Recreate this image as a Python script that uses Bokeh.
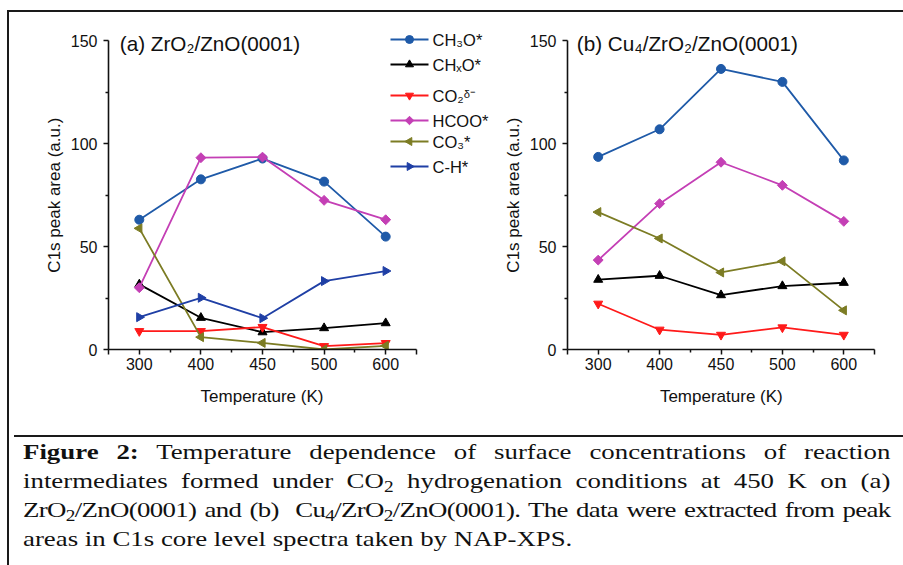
import math
from bokeh.plotting import figure
from bokeh.models import FixedTicker, Label, Div, Range1d
from bokeh.layouts import row, column
from bokeh.embed import file_html
from bokeh.resources import INLINE

# ---------------- data ----------------
temps = ["300", "400", "450", "500", "600"]
y_ticks = [0, 50, 100, 150]

# panel (a) ZrO2/ZnO(0001)
a_ch3o = [63.0, 82.6, 92.7, 81.5, 54.8]
a_chxo = [31.6, 15.4, 8.4, 10.4, 12.8]
a_co2 = [8.9, 8.9, 10.9, 1.6, 3.1]
a_hcoo = [30.0, 93.1, 93.4, 72.4, 63.0]
a_co3 = [58.8, 6.0, 3.2, 0.0, 1.8]
a_ch = [15.7, 25.1, 15.2, 33.2, 38.1]

# panel (b) Cu4/ZrO2/ZnO(0001)
b_ch3o = [93.5, 106.9, 136.2, 129.9, 91.8]
b_chxo = [33.9, 35.8, 26.4, 30.8, 32.4]
b_co2 = [22.2, 9.6, 7.1, 10.7, 7.1]
b_hcoo = [43.4, 70.8, 90.9, 79.7, 62.2]
b_co3 = [66.7, 53.9, 37.4, 42.8, 19.0]

keys = ["CH3O", "CHXO", "CO2", "HCOO", "CO3", "CH"]
names = ["CH\u2083O*", "CH\u2093O*", "CO\u2082\u1d5f\u207b", "HCOO*", "CO\u2083*", "C-H*"]

# ---------------- styles ----------------
STY = {
    "CH3O": dict(color="#1f5aa8", marker="circle", angle=0.0, size=9),
    "CHXO": dict(color="#000000", marker="triangle", angle=0.0, size=9),
    "CO2": dict(color="#ff1a1a", marker="inverted_triangle", angle=0.0, size=9),
    "HCOO": dict(color="#c43fb5", marker="square", angle=math.pi / 4, size=7),
    "CO3": dict(color="#7c7c24", marker="triangle", angle=math.pi / 2, size=9),
    "CH": dict(color="#1f3fa5", marker="triangle", angle=-math.pi / 2, size=9),
}
FONT = "Liberation Sans"
INK = "#111111"
NBSP = "\u00a0"
xs = [i + 1 for i in range(len(temps))]
n = len(temps)

# geometry (pixels)
FIG_H = 418
MB_BOTTOM = 81
AX_H = 309.0           # pixel height of the 0..150 axis
FRAME_H = FIG_H - MB_BOTTOM
Y_TOP = y_ticks[-1] * FRAME_H / AX_H
LBL_PX = 17
SPACE_W = 0.2778 * LBL_PX


def make_panel(width, mbl, axis_w, title, title_x, series):
    frame_w = width - mbl
    x_end = 0.5 + n * frame_w / axis_w
    p = figure(width=width, height=FIG_H, x_range=Range1d(0.5, x_end),
               y_range=Range1d(y_ticks[0], Y_TOP),
               output_backend="svg", toolbar_location=None,
               min_border_left=mbl, min_border_right=0,
               min_border_top=0, min_border_bottom=MB_BOTTOM)
    p.xgrid.visible = False
    p.ygrid.visible = False
    p.outline_line_color = None
    p.border_fill_color = "white"

    xt = [0.5] + xs + [n + 0.5]
    p.xaxis.ticker = FixedTicker(ticks=xt, minor_ticks=[x + 0.5 for x in xs[:-1]])
    ov = {0.5: "", n + 0.5: ""}
    for x, t in zip(xs, temps):
        ov[x] = t
    p.xaxis.major_label_overrides = ov
    p.xaxis.bounds = (0.5, n + 0.5)
    p.yaxis.bounds = (y_ticks[0], y_ticks[-1])
    p.yaxis.ticker = FixedTicker(ticks=y_ticks,
                                 minor_ticks=[(y_ticks[i] + y_ticks[i + 1]) / 2 for i in range(len(y_ticks) - 1)])
    # pad labels so that they are centred on the axis (not on the wider frame)
    pad_x = int(round((frame_w - axis_w) / SPACE_W))
    pad_y = int(round((FRAME_H - AX_H) / SPACE_W))
    p.xaxis.axis_label = "Temperature (K)" + NBSP * pad_x
    p.yaxis.axis_label = "C1s peak area (a.u.)" + NBSP * pad_y
    for ax in (p.xaxis[0], p.yaxis[0]):
        ax.axis_line_width = 1.6
        ax.axis_line_color = INK
        ax.major_tick_in = 0
        ax.major_tick_out = 5
        ax.minor_tick_in = 0
        ax.minor_tick_out = 3
        ax.major_tick_line_width = 1.5
        ax.minor_tick_line_width = 1.5
        ax.major_tick_line_color = INK
        ax.minor_tick_line_color = INK
        ax.major_label_text_font = FONT
        ax.major_label_text_font_size = "16px"
        ax.major_label_text_color = INK
        ax.axis_label_text_font = FONT
        ax.axis_label_text_font_size = "%dpx" % LBL_PX
        ax.axis_label_text_font_style = "normal"
        ax.axis_label_text_color = INK
    p.xaxis.major_label_standoff = 3
    p.xaxis.axis_label_standoff = 14
    p.yaxis.major_label_standoff = 6
    p.yaxis.axis_label_standoff = 4

    for key, vals in series:
        s = STY[key]
        p.line(xs, vals, line_color=s["color"], line_width=1.8)
        p.scatter(xs, vals, marker=s["marker"], angle=s["angle"], size=s["size"],
                  fill_color=s["color"], line_color=s["color"])

    p.add_layout(Label(x=title_x, y=148.5, text=title, text_baseline="middle",
                       text_font=FONT, text_font_size="20.7px", text_color=INK))
    return p


pa = make_panel(491, 99, 308.0, "(a) ZrO\u2082/ZnO(0001)", 0.683,
                [("CH3O", a_ch3o), ("CHXO", a_chxo), ("CO2", a_co2),
                 ("HCOO", a_hcoo), ("CO3", a_co3), ("CH", a_ch)])
pb = make_panel(403, 67, 307.0, "(b) Cu\u2084/ZrO\u2082/ZnO(0001)", 0.651,
                [("CH3O", b_ch3o), ("CHXO", b_chxo), ("CO2", b_co2),
                 ("HCOO", b_hcoo), ("CO3", b_co3)])

# ---------------- legend (drawn beside panel (a)) ----------------
A_LEFT, A_BOTTOM, PX_X, PX_Y = 108.0, 349.0, 308.0 / n, AX_H / y_ticks[-1]


def to_data(px, py):
    return 0.5 + (px - A_LEFT) / PX_X, (A_BOTTOM - py) / PX_Y


rows_y = [39, 64, 95, 120, 141, 166]
for key, nm, ry in zip(keys, names, rows_y):
    s = STY[key]
    (x0, yy), (x1, _), (xm, _), (xt, _) = to_data(390, ry), to_data(428, ry), to_data(409, ry), to_data(432, ry)
    pa.line([x0, x1], [yy, yy], line_color=s["color"], line_width=1.8)
    pa.scatter([xm], [yy], marker=s["marker"], angle=s["angle"], size=s["size"] - 1,
               fill_color=s["color"], line_color=s["color"])
    pa.add_layout(Label(x=xt, y=yy, text=nm, text_baseline="middle",
                        text_font=FONT, text_font_size="16.5px", text_color=INK))

# ---------------- caption ----------------
line_css = "text-align:justify; text-align-last:justify; white-space:nowrap;"
sub = '<span style="font-size:0.72em; vertical-align:-0.28em; line-height:0;">%s</span>'
cap_html = (
    '<div style="font-family:\'Liberation Serif\',\'Times New Roman\',serif; font-size:22px; '
    'line-height:29px; color:#111; width:711px; margin-left:9px; padding-top:0px; '
    'transform:scaleX(1.22); transform-origin:0 0;">'
    '<div style="%s"><b>Figure 2:</b> Temperature dependence of surface concentrations of reaction</div>'
    '<div style="%s">intermediates formed under CO%s hydrogenation conditions at 450&nbsp;K on (a)</div>'
    '<div style="%s letter-spacing:-0.55px;">ZrO%s/ZnO(0001) and (b)&nbsp; Cu%s/ZrO%s/ZnO(0001). The data were extracted from peak</div>'
    '<div style="white-space:nowrap;">areas in C1s core level spectra taken by NAP-XPS.</div>'
    '</div>'
) % (line_css, line_css, sub % "2", line_css, sub % "2", sub % "4", sub % "2")

cap = Div(text=cap_html, width=894, height=133,
          styles={"border-top": "2px solid #1a1a1a"})

root = column(row(pa, pb), cap,
              styles={"margin-left": "7px", "margin-top": "10px",
                      "border-left": "2px solid #1a1a1a", "border-top": "2px solid #1a1a1a"})

open("out.html", "w").write(file_html(root, INLINE))
